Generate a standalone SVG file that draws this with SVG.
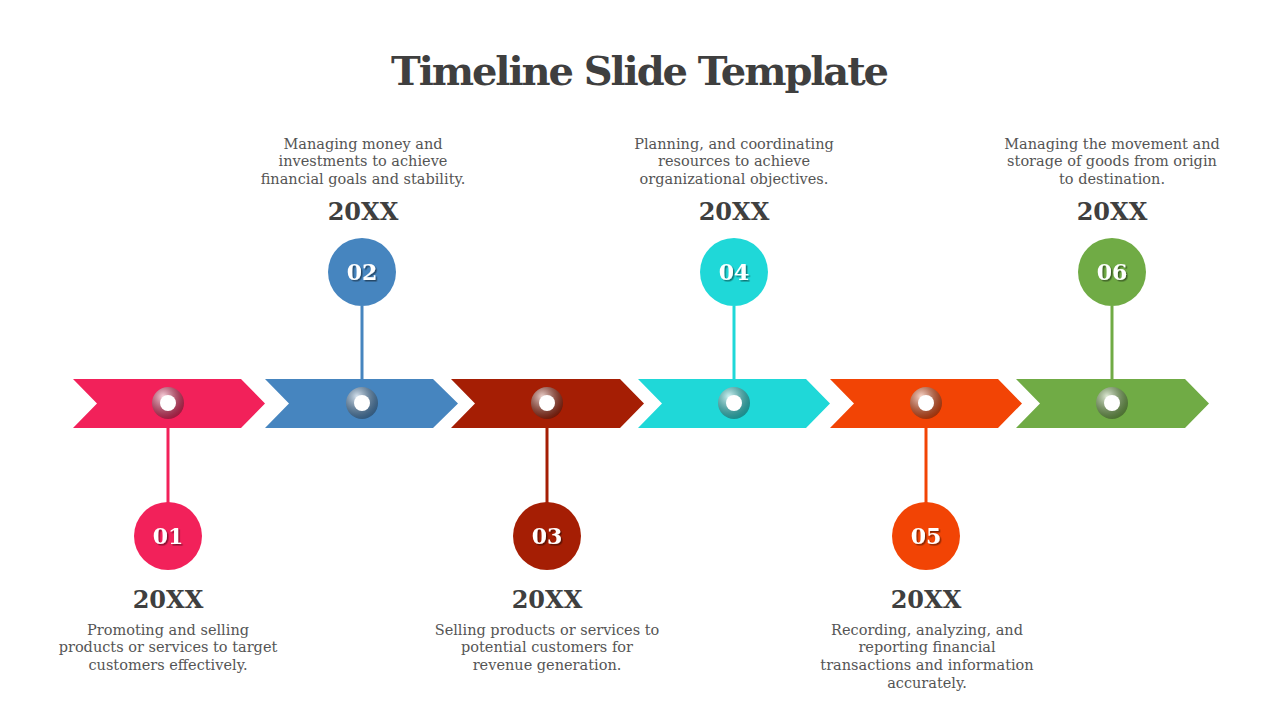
<svg xmlns="http://www.w3.org/2000/svg" width="1280" height="720" viewBox="0 0 1280 720">
<defs>
<radialGradient id="g" cx="0.35" cy="0.3" r="0.8"><stop offset="0" stop-color="#fff" stop-opacity="0.8"/><stop offset="1" stop-color="#000" stop-opacity="0.35"/></radialGradient>
<filter id="sh"><feDropShadow dx="1.5" dy="1.5" stdDeviation="0.6" flood-color="#000" flood-opacity="0.45"/></filter>
</defs>
<style>
text{font-family:"DejaVu Serif","Liberation Serif",serif;text-anchor:middle}
.t{font-size:40px;font-weight:bold;fill:#3f3f3f}
.y{font-size:24px;font-weight:bold;fill:#3f3f3f}
.d{font-size:14.5px;fill:#555}
.n{font-size:22px;font-weight:bold;fill:#fff;filter:url(#sh)}
.r{stroke-width:3}
</style>
<rect width="1280" height="720" fill="#fff"/>
<text class="t" x="640" y="85" textLength="498">Timeline Slide Template</text>
<g id="connectors">
<line x1="168" y1="403" x2="168" y2="503" stroke="#F2215A" class="r"/>
<line x1="362" y1="306" x2="362" y2="403" stroke="#4685BF" class="r"/>
<line x1="547" y1="403" x2="547" y2="503" stroke="#A51E04" class="r"/>
<line x1="734" y1="306" x2="734" y2="403" stroke="#1FD8D8" class="r"/>
<line x1="926" y1="403" x2="926" y2="503" stroke="#F24405" class="r"/>
<line x1="1112" y1="306" x2="1112" y2="403" stroke="#70AB45" class="r"/>
</g>
<g id="n1">
<polygon points="73,379 241,379 265,403.5 241,428 73,428 97,403.5" fill="#F2215A"/>
<circle cx="168" cy="403" r="16" fill="#F2215A"/><circle cx="168" cy="403" r="16" fill="url(#g)"/><circle cx="168" cy="403" r="8" fill="#fff"/>
<circle cx="168" cy="536" r="34" fill="#F2215A"/><text class="n" x="168" y="544">01</text>
<text class="y" x="168" y="608">20XX</text>
<text class="d" x="168" y="635">Promoting and selling</text><text class="d" x="168" y="652">products or services to target</text><text class="d" x="168" y="670">customers effectively.</text>
</g>
<g id="n2">
<polygon points="265,379 433,379 458,403.5 433,428 265,428 289,403.5" fill="#4685BF"/>
<circle cx="362" cy="403" r="16" fill="#4685BF"/><circle cx="362" cy="403" r="16" fill="url(#g)"/><circle cx="362" cy="403" r="8" fill="#fff"/>
<circle cx="362" cy="272" r="34" fill="#4685BF"/><text class="n" x="362" y="280">02</text>
<text class="y" x="363" y="220">20XX</text>
<text class="d" x="363" y="149">Managing money and</text><text class="d" x="363" y="166">investments to achieve</text><text class="d" x="363" y="184">financial goals and stability.</text>
</g>
<g id="n3">
<polygon points="451,379 620,379 644,403.5 620,428 451,428 475,403.5" fill="#A51E04"/>
<circle cx="547" cy="403" r="16" fill="#A51E04"/><circle cx="547" cy="403" r="16" fill="url(#g)"/><circle cx="547" cy="403" r="8" fill="#fff"/>
<circle cx="547" cy="536" r="34" fill="#A51E04"/><text class="n" x="547" y="544">03</text>
<text class="y" x="547" y="608">20XX</text>
<text class="d" x="547" y="635">Selling products or services to</text><text class="d" x="547" y="652">potential customers for</text><text class="d" x="547" y="670">revenue generation.</text>
</g>
<g id="n4">
<polygon points="638,379 806,379 830,403.5 806,428 638,428 662,403.5" fill="#1FD8D8"/>
<circle cx="734" cy="403" r="16" fill="#1FD8D8"/><circle cx="734" cy="403" r="16" fill="url(#g)"/><circle cx="734" cy="403" r="8" fill="#fff"/>
<circle cx="734" cy="272" r="34" fill="#1FD8D8"/><text class="n" x="734" y="280">04</text>
<text class="y" x="734" y="220">20XX</text>
<text class="d" x="734" y="149">Planning, and coordinating</text><text class="d" x="734" y="166">resources to achieve</text><text class="d" x="734" y="184">organizational objectives.</text>
</g>
<g id="n5">
<polygon points="830,379 998,379 1022,403.5 998,428 830,428 854,403.5" fill="#F24405"/>
<circle cx="926" cy="403" r="16" fill="#F24405"/><circle cx="926" cy="403" r="16" fill="url(#g)"/><circle cx="926" cy="403" r="8" fill="#fff"/>
<circle cx="926" cy="536" r="34" fill="#F24405"/><text class="n" x="926" y="544">05</text>
<text class="y" x="926" y="608">20XX</text>
<text class="d" x="927" y="635">Recording, analyzing, and</text><text class="d" x="927" y="652">reporting financial</text><text class="d" x="927" y="670">transactions and information</text><text class="d" x="927" y="688">accurately.</text>
</g>
<g id="n6">
<polygon points="1016,379 1185,379 1209,403.5 1185,428 1016,428 1040,403.5" fill="#70AB45"/>
<circle cx="1112" cy="403" r="16" fill="#70AB45"/><circle cx="1112" cy="403" r="16" fill="url(#g)"/><circle cx="1112" cy="403" r="8" fill="#fff"/>
<circle cx="1112" cy="272" r="34" fill="#70AB45"/><text class="n" x="1112" y="280">06</text>
<text class="y" x="1112" y="220">20XX</text>
<text class="d" x="1112" y="149">Managing the movement and</text><text class="d" x="1112" y="166">storage of goods from origin</text><text class="d" x="1112" y="184">to destination.</text>
</g>
</svg>
